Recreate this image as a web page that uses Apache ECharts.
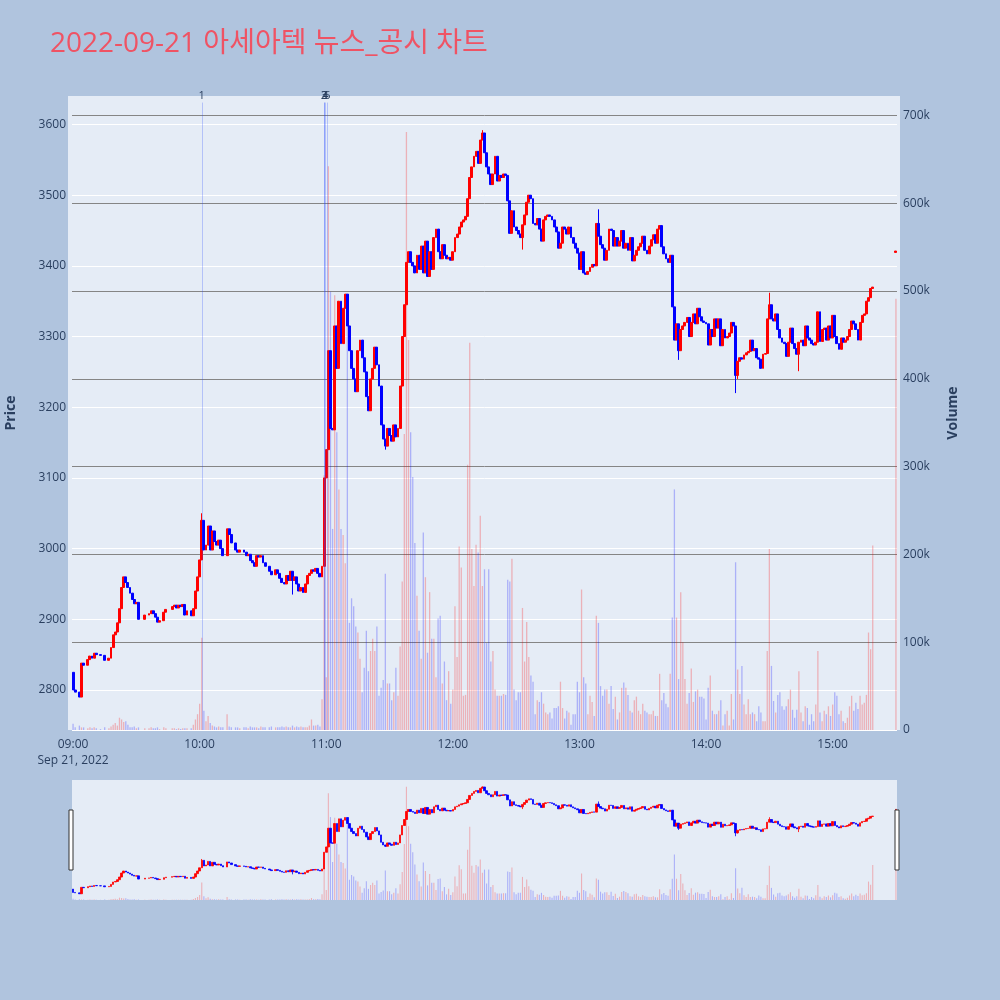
<!DOCTYPE html>
<html>
<head>
<meta charset="utf-8">
<script src="https://cdn.jsdelivr.net/npm/echarts@6/dist/echarts.min.js"></script>
<style>
html,body{margin:0;padding:0;background:#B0C4DE;}
#c{width:1000px;height:1000px;}
</style>
</head>
<body>
<div id="c"></div>
<script>
// ---------------- DATA (1-minute candles, 2022-09-21) ----------------
const firstOpen = 2825;
// close price per minute, null = no trade in that minute
const close09 = [2800,2797,null,2790,2838,2835,null,2843,2848,2845,
                 2852,2850,null,2849,null,2842,null,2845,2860,2878,
                 2882,2895,2915,2945,2960,2952,2945,2937,2928,2922,
                 2924,2900,null,null,2906,null,2908,2912,2908,2903,
                 2896,2898,null,2910,2914,null,null,2918,2920,2916,
                 2920,2918,2921,2906,2912,null,2905,2915,2940,2960];
const close10 = [2984,3040,2998,3005,3032,2998,3025,3010,3005,3012,
                 3000,2990,null,3028,3020,3008,null,2998,2995,2998,
                 null,2995,2990,2992,2983,2980,2975,2990,2988,2990,
                 2980,2975,null,2968,2963,null,2970,2965,2958,2952,
                 2950,2962,2955,2968,2955,2960,2950,2940,2945,2938,
                 2950,2962,2965,2970,2968,2972,2965,2960,2975,3100];
const close11 = [3140,3280,3170,3168,3315,3255,3350,3290,3340,3360,
                 3315,3280,3255,3240,3222,3280,3295,3270,3250,3215,
                 3195,3240,3255,3285,3260,3230,3175,3155,3145,3170,
                 3160,3152,3175,3158,3170,3230,3300,3345,3405,3420,
                 3405,3400,3390,3415,3395,3428,3390,3435,3385,3420,
                 3395,3440,3452,3420,3410,3430,3415,3410,3412,3408];
const close12 = [3420,3440,3445,3455,3462,3465,3470,3495,3525,3540,
                 3555,3562,3545,3578,3588,3560,3540,3530,3515,3530,
                 3555,3520,3528,3525,3530,3528,3492,3446,3478,3455,
                 3450,3445,3440,3458,3472,3490,3500,3495,3460,3458,
                 3467,3452,3435,3465,3470,3472,3470,3465,3455,3448,
                 3425,3432,3455,3452,3445,3455,3440,3432,3425,3418];
const close13 = [3395,3420,3390,3388,3392,3398,3402,3400,3460,3442,
                 3430,3425,3408,3422,3452,3450,3428,3440,3428,3435,
                 3450,3425,3432,3422,3440,3407,3415,3422,3427,3432,
                 3442,3422,3417,3428,3437,3444,3432,3452,3457,3427,
                 3417,3410,3405,3415,3342,3295,3318,3280,3310,3315,
                 3320,3327,3300,3320,3332,3318,3340,3328,3322,3320];
const close14 = [3318,3288,3310,3300,3325,3312,3325,3287,3310,3298,
                 3300,3305,3320,3315,3245,3265,3270,3268,3274,3277,
                 3279,3295,3280,3283,3270,3268,3255,3275,3276,3325,
                 3345,3325,3322,3332,3310,3298,3292,3290,3272,3292,
                 3312,3290,3283,3275,3292,3295,3287,3315,3298,3295,
                 3290,3288,3292,3335,3293,3310,3312,3295,3315,3298];
const close15 = [3330,3300,3290,3282,3298,3292,3295,3300,3310,3322,
                 3318,3310,3295,3320,3330,3332,3350,3355,3368,3370];
// volume per minute, thousands of shares
const vol09 = [7,3,0,5,3,3,0,2,3,2, 3,2,0,1,0,3,0,2,4,6, 8,5,14,12,9,10,6,3,3,4,
               2,3,0,0,2,0,2,3,2,2, 3,1,0,3,2,0,0,2,2,1, 2,1,2,2,2,0,2,6,12,18];
const vol10 = [30,105,22,10,16,8,5,4,3,4, 3,3,0,18,4,3,0,3,3,2, 0,3,3,2,4,3,3,3,2,4,
               3,3,0,3,4,0,3,3,3,4, 3,4,3,3,5,3,4,3,4,3, 3,3,5,12,5,5,6,4,35,290];
const vol11 = [60,642,499,229,495,339,274,229,222,190, 495,122,150,141,118,111,81,43,71,113,
               67,90,104,90,118,39,48,57,178,53, 53,34,43,71,39,95,169,337,681,444,
               339,288,213,153,113,81,225,174,88,157, 104,104,60,127,130,53,78,34,67,30];
const vol12 = [46,141,83,209,185,39,40,302,441,206, 164,211,202,244,164,183,99,183,78,90,
               46,39,39,39,41,40,171,169,195,46, 34,43,43,139,78,123,83,62,55,18,
               34,32,43,30,20,18,20,13,25,25, 27,55,25,13,22,20,6,18,18,55];
const vol13 = [43,160,60,53,18,39,32,16,130,122, 50,39,46,46,30,50,24,38,12,20,
               48,54,48,40,22,20,34,38,22,18, 30,22,20,18,18,22,16,16,64,34,
               42,30,26,64,128,274,128,58,157,100, 58,30,42,70,32,44,46,38,38,36];
const vol14 = [12,48,62,22,18,18,22,34,5,18, 22,5,41,12,191,69,41,73,29,18,
               35,18,20,18,10,27,20,10,10,90, 206,73,33,20,40,43,27,23,27,35,
               46,23,14,23,67,20,10,27,25,6, 18,10,29,90,20,10,22,18,27,16];
const vol15 = [29,43,39,18,22,10,8,14,27,39, 22,31,24,39,29,31,40,111,92,210];
// closing auction 15:30
const auctionTime = '15:30';
const auctionOpen = 3419, auctionClose = 3421, auctionVol = 491;
// visible wicks: [time, low, high]
const wicks = [['10:01',null,3050],['10:44',2935,null],['11:28',3140,null],['12:14',null,3592],
               ['12:33',3423,null],['13:09',null,3480],['13:47',3267,null],['14:14',3220,null],
               ['14:15',3240,null],['14:30',null,3362],['14:44',3251,null]];
// news / disclosure markers
const newsTimes  = ['10:01:00','10:59:00','10:59:00','10:59:35','11:00:30'];
const newsLabels = ['1','2','3','4','5'];
const xTickTimes = ['09:00','10:00','11:00','12:00','13:00','14:00','15:00'];
const dateLabel = 'Sep 21, 2022';
const titleText = '2022-09-21 아세아텍 뉴스_공시 차트';

// ---------------- BUILD ----------------
function toMin(t){const p=t.split(':').map(Number);return (p[0]-9)*60+p[1]+(p[2]||0)/60;}
function pad(n){return (n<10?'0':'')+n;}
const closes=[].concat(close09,close10,close11,close12,close13,close14,close15);
const vols=[].concat(vol09,vol10,vol11,vol12,vol13,vol14,vol15);
const wickMap={}; wicks.forEach(w=>{wickMap[toMin(w[0])]=w;});
const UP='#FF0000', DN='#0000FF', VUP='rgba(255,0,0,0.25)', VDN='rgba(0,0,255,0.25)';
const candles=[], volBars=[];
let prev=firstOpen;
closes.forEach((c,i)=>{
  if(c==null) return;
  const o=prev; let lo=Math.min(o,c), hi=Math.max(o,c);
  const w=wickMap[i];
  if(w){ if(w[1]!=null) lo=Math.min(lo,w[1]); if(w[2]!=null) hi=Math.max(hi,w[2]); }
  candles.push([i,o,c,lo,hi]);
  volBars.push({value:[i,vols[i]*1000],itemStyle:{color:c>=o?VUP:VDN}});
  prev=c;
});
const am=toMin(auctionTime);
candles.push([am,auctionOpen,auctionClose,Math.min(auctionOpen,auctionClose),Math.max(auctionOpen,auctionClose)]);
volBars.push({value:[am,auctionVol*1000],itemStyle:{color:auctionClose>=auctionOpen?VUP:VDN}});

const P_MIN=2743.4, P_MAX=3640.3, V_MAX=722000, X_MIN=-0.5, X_MAX=390.5;
const FONT='"Open Sans", "Noto Sans CJK KR", sans-serif';
const TXT='#2a3f5f';

const newsLines=newsTimes.map((t,k)=>[{coord:[toMin(t),P_MIN],name:newsLabels[k]},{coord:[toMin(t),3631]}]);

const candleStyle={color:UP,color0:DN,borderColor:UP,borderColor0:DN,borderColorDoji:UP,borderWidth:1};

const chart=echarts.init(document.getElementById('c'),null,{renderer:'canvas'});
chart.setOption({
  animation:false,
  backgroundColor:'#B0C4DE',
  title:{text:titleText,left:45,top:25,textStyle:{color:'#EF5364',fontSize:28,fontWeight:'normal',fontFamily:FONT}},
  graphic:[
    {type:'rect',z:-10,shape:{x:68,y:96,width:832,height:634},style:{fill:'#E5ECF6'},silent:true},
    {type:'rect',z:100,shape:{x:69,y:810,width:4,height:60},style:{fill:'#ffffff',stroke:'#333333',lineWidth:1},silent:true},
    {type:'rect',z:100,shape:{x:895,y:810,width:4,height:60},style:{fill:'#ffffff',stroke:'#333333',lineWidth:1},silent:true}
  ],
  grid:[
    {left:72,width:825,top:96,height:634,show:false,outerBoundsMode:'none',containLabel:false},
    {left:72,width:825,top:780,height:120,show:true,backgroundColor:'#E5ECF6',borderWidth:0,outerBoundsMode:'none',containLabel:false}
  ],
  xAxis:[
    {type:'value',gridIndex:0,min:X_MIN,max:X_MAX,
     axisLine:{show:false},axisTick:{show:false},splitLine:{show:false},
     axisLabel:{customValues:xTickTimes.map(toMin),margin:7,color:TXT,fontSize:12,fontFamily:FONT,lineHeight:16,
       formatter:v=>{const h=9+Math.floor(v/60),m=Math.round(v-Math.floor(v/60)*60);const s=pad(h)+':'+pad(m);return v===0?s+'\n'+dateLabel:s;}}},
    {type:'value',gridIndex:1,min:X_MIN,max:X_MAX,show:false}
  ],
  yAxis:[
    {type:'value',gridIndex:0,position:'left',min:P_MIN,max:P_MAX,splitNumber:9,
     name:'Price',nameLocation:'middle',nameGap:54,nameRotate:90,
     nameTextStyle:{color:TXT,fontSize:14,fontWeight:'bold',fontFamily:FONT},
     axisLine:{show:false},axisTick:{show:false},
     axisLabel:{color:TXT,fontSize:12,fontFamily:FONT,margin:6,showMinLabel:false,showMaxLabel:false,formatter:v=>String(v)},
     splitLine:{show:true,showMaxLine:false,lineStyle:{color:'#ffffff',width:1}}},
    {type:'value',gridIndex:0,position:'right',min:0,max:V_MAX,interval:100000,
     name:'Volume',nameLocation:'middle',nameGap:49,nameRotate:90,
     nameTextStyle:{color:TXT,fontSize:14,fontWeight:'bold',fontFamily:FONT},
     axisLine:{show:false},axisTick:{show:false},
     axisLabel:{color:TXT,fontSize:12,fontFamily:FONT,margin:6,showMaxLabel:false,formatter:v=>v===0?'0':(v/1000)+'k'},
     splitLine:{show:true,showMaxLine:false,lineStyle:{color:['#ffffff','#858585','#858585','#858585','#858585','#858585','#858585','#858585','rgba(0,0,0,0)'],width:1}}},
    {type:'value',gridIndex:1,min:P_MIN,max:P_MAX,show:false,splitLine:{show:false}},
    {type:'value',gridIndex:1,min:0,max:V_MAX,show:false,splitLine:{show:false}}
  ],
  series:[
    {type:'bar',name:'Volume',xAxisIndex:0,yAxisIndex:1,data:volBars,barWidth:1.3,z:1,silent:true},
    {type:'candlestick',name:'Price',xAxisIndex:0,yAxisIndex:0,data:candles,encode:{x:0,y:[1,2,3,4]},
     barWidth:2.4,itemStyle:candleStyle,z:3,silent:true,
     markLine:{symbol:['none','none'],silent:true,animation:false,
       lineStyle:{color:'rgba(40,70,255,0.26)',width:1,type:'solid'},
       label:{show:true,position:'end',formatter:'{b}',color:TXT,fontSize:11,fontFamily:FONT,distance:1},
       data:newsLines}},
    {type:'bar',xAxisIndex:1,yAxisIndex:3,data:volBars,barWidth:1.1,z:1,silent:true},
    {type:'candlestick',xAxisIndex:1,yAxisIndex:2,data:candles,encode:{x:0,y:[1,2,3,4]},
     barWidth:2,itemStyle:Object.assign({},candleStyle,{borderWidth:0.8}),z:3,silent:true}
  ]
});
</script>
</body>
</html>
